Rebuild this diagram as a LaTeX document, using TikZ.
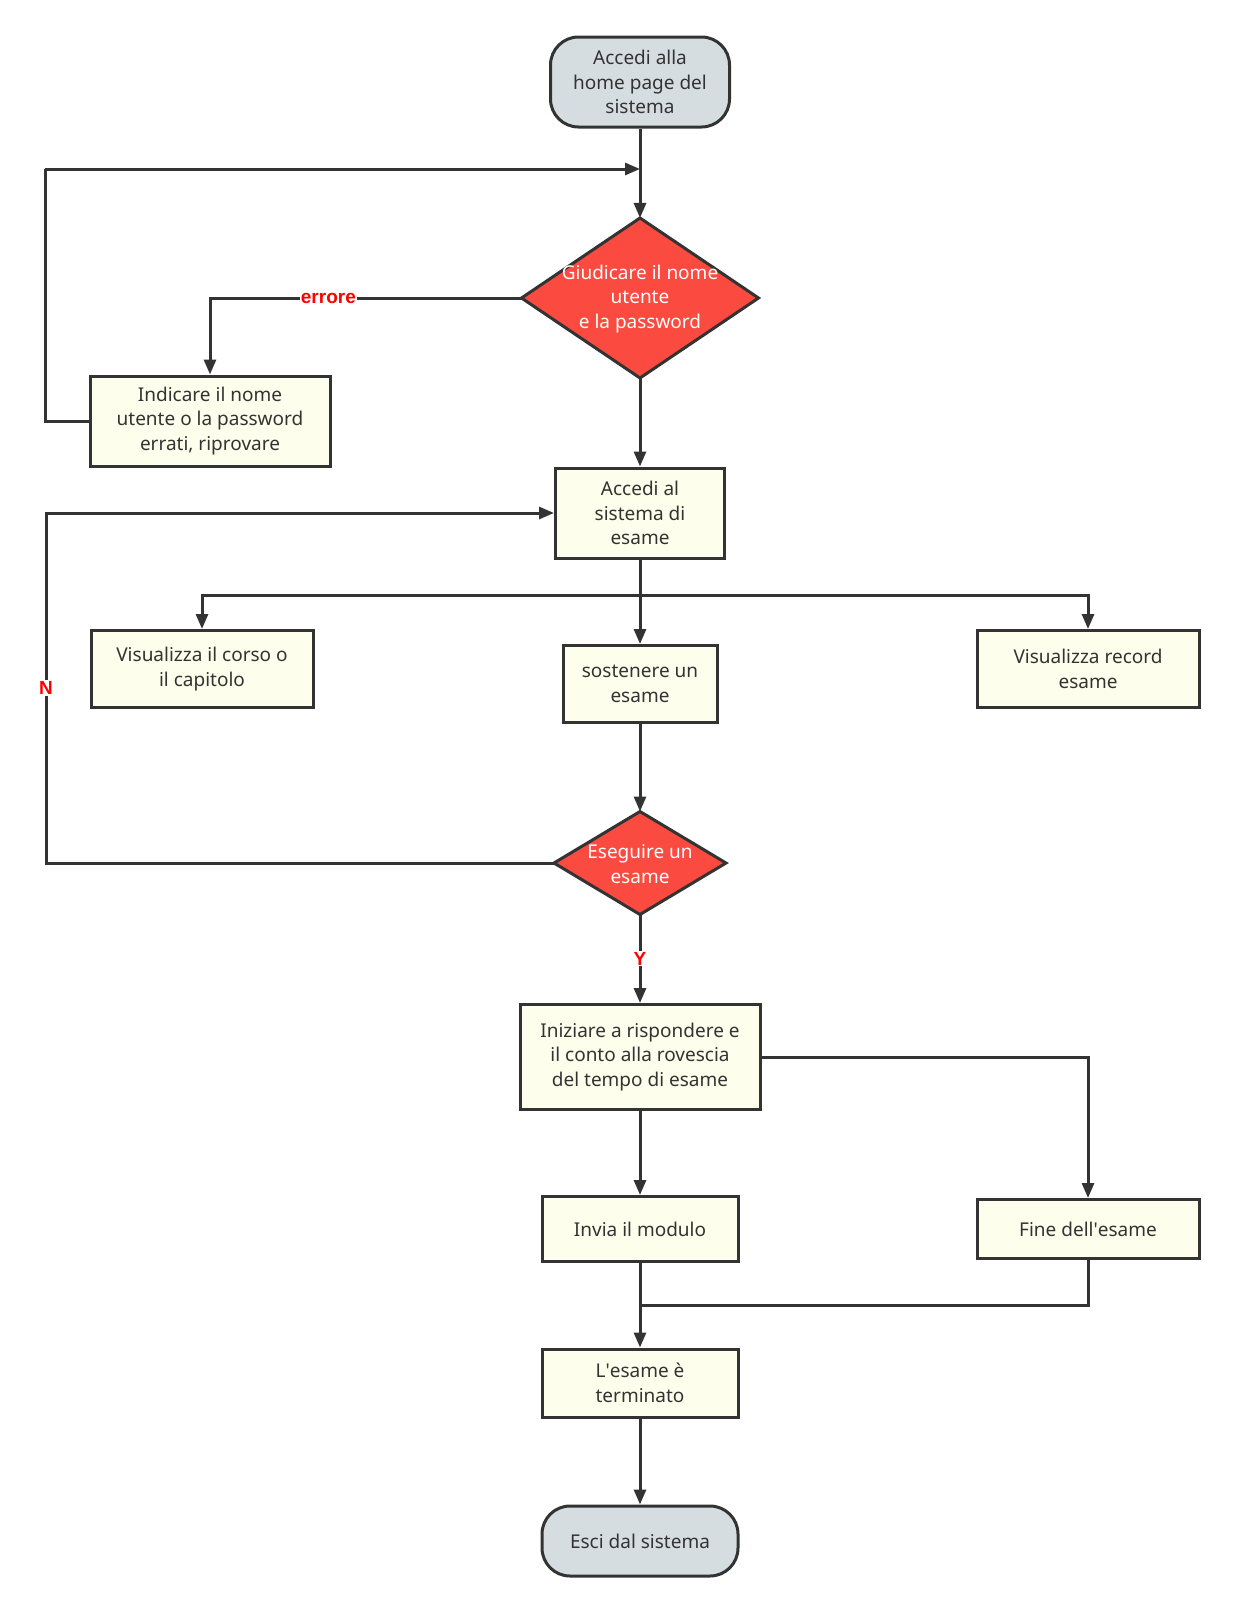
\documentclass[tikz,border=0pt]{standalone}
\usepackage{fontspec}
\setmainfont{Noto Sans}
\newfontfamily\apfont{Noto Sans}
\newfontfamily\labfont{Liberation Sans}
\usetikzlibrary{arrows.meta,shapes.geometric,calc}
\newcommand\myap{{\apfont'}}
\definecolor{lineC}{HTML}{333333}
\definecolor{boxF}{HTML}{FEFEEC}
\definecolor{termF}{HTML}{D6DDE1}
\definecolor{decF}{HTML}{FB4A40}
\tikzset{
  base/.style={draw=lineC, line width=3pt, align=center, inner sep=2pt,
    font=\fontsize{19}{24.5}\selectfont, text=lineC},
  box/.style={base, rectangle, fill=boxF},
  term/.style={base, rectangle, rounded corners=28pt, fill=termF},
  dec/.style={draw=lineC, line width=3pt, diamond, fill=decF, inner sep=0pt, outer sep=0pt},
  dectext/.style={align=center, text=white, font=\fontsize{19}{24.5}\selectfont, inner sep=0pt},
  conn/.style={draw=lineC, line width=3pt, -{Triangle[length=15pt,width=12pt]}},
  plain/.style={draw=lineC, line width=3pt},
  lab/.style={text=red, font=\labfont\fontsize{19}{22}\selectfont\bfseries, fill=white, inner sep=1pt},
}
\begin{document}
\begin{tikzpicture}[x=1pt,y=-1pt]
\useasboundingbox[fill=white] (0,0) rectangle (1236,1614);
\node[term, minimum width=179pt, minimum height=90pt] (start) at (640,82) {Accedi alla\\home page del\\sistema};
\node[dec, minimum width=237pt, minimum height=160pt] (d1) at (640,298) {};
\node[dectext] (d1t) at (640,299) {Giudicare il nome\\utente\\e la password};
\node[box, minimum width=240pt, minimum height=90pt] (err) at (210,421) {Indicare il nome\\utente o la password\\errati, riprovare};
\node[box, minimum width=169pt, minimum height=90pt] (acc) at (640,513) {Accedi al\\sistema di\\esame};
\node[box, minimum width=222pt, minimum height=77pt] (vis) at (202,669) {Visualizza il corso o\\il capitolo};
\node[box, minimum width=154pt, minimum height=77pt] (sos) at (640,684) {sostenere un\\esame};
\node[box, minimum width=222pt, minimum height=77pt] (rec) at (1088,669) {Visualizza record\\esame};
\node[dec, minimum width=172pt, minimum height=103pt] (d2) at (640,863) {};
\node[dectext] (d2t) at (640,864) {Eseguire un\\esame};
\node[box, minimum width=240pt, minimum height=105pt] (ini) at (640,1057) {Iniziare a rispondere e\\il conto alla rovescia\\del tempo di esame};
\node[box, minimum width=196pt, minimum height=65pt] (inv) at (640,1229) {Invia il modulo};
\node[box, minimum width=222pt, minimum height=59pt] (fine) at (1088,1229) {Fine dell\myap esame};
\node[box, minimum width=196pt, minimum height=68pt] (ter) at (640,1383) {L\myap esame è\\terminato};
\node[term, minimum width=196pt, minimum height=70pt] (esci) at (640,1541) {Esci dal sistema};

\coordinate (j1) at (640,169);
\coordinate (jb) at (640,595);
\coordinate (jf) at (640,1305);
\coordinate (lt) at (45,169);
\coordinate (lb) at (45,421);
\coordinate (nb) at (46,863);

\draw[conn] (start) -- (d1);
\draw[conn] (d1.west) -| (err.north) node[lab, pos=0.31] {errore};
\draw[plain] (err.west) -- (lb) -- (lt);
\draw[conn] (lt) -- (j1);
\draw[conn] (d1) -- (acc);
\draw[plain] (acc.south) -- (jb);
\draw[conn] (jb) -| (vis.north);
\draw[conn] (jb) -| (rec.north);
\draw[conn] (jb) -- (sos.north);
\draw[conn] (sos) -- (d2);
\draw[conn] (d2.west) -- (nb) |- (acc.west) node[lab, pos=0.25] {N};
\draw[conn] (d2) -- (ini) node[lab, midway] {Y};
\draw[conn] (ini.east) -| (fine.north);
\draw[conn] (ini) -- (inv);
\draw[conn] (inv) -- (ter);
\draw[plain] (fine.south) |- (jf);
\draw[conn] (ter) -- (esci);
\end{tikzpicture}
\end{document}
